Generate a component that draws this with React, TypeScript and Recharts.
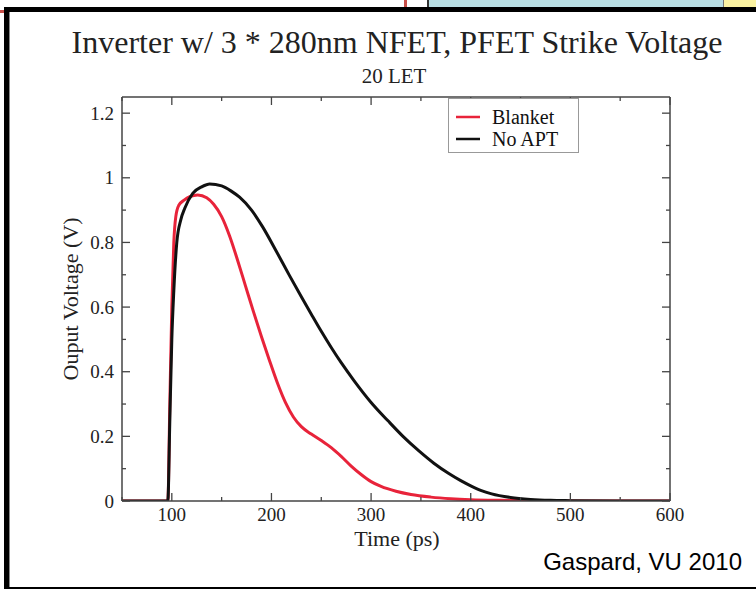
import React from 'react';
import { LineChart, Line, XAxis, YAxis, Legend } from 'recharts';

// ---------- data ----------
const seriesNames = ['Blanket', 'No APT'];
const seriesColors = ['#e8233a', '#111111'];

const blanketTime = [50, 90, 96, 98, 100, 102, 104, 107, 112, 118, 126, 135, 142, 150, 158, 166, 174, 182, 190, 198, 206, 214, 222, 230, 240, 250, 260, 270, 280, 290, 300, 310, 325, 340, 360, 380, 400, 430, 460, 500, 550, 600];
const blanketVolt = [0, 0, 0, 0.3, 0.6, 0.8, 0.88, 0.915, 0.93, 0.942, 0.947, 0.938, 0.918, 0.88, 0.82, 0.745, 0.665, 0.585, 0.508, 0.435, 0.365, 0.305, 0.26, 0.23, 0.207, 0.187, 0.165, 0.138, 0.108, 0.082, 0.06, 0.045, 0.03, 0.02, 0.012, 0.007, 0.004, 0.002, 0.001, 0, 0, 0];

const noAptTime = [50, 90, 96, 98, 100, 102, 105, 109, 113, 121, 130, 138, 150, 160, 168, 180, 191, 205, 218, 230, 240, 250, 260, 270, 283, 300, 317, 332, 348, 363, 378, 390, 400, 410, 421, 440, 460, 480, 500, 550, 600];
const noAptVolt = [0, 0, 0, 0.25, 0.5, 0.65, 0.8, 0.87, 0.906, 0.952, 0.972, 0.981, 0.975, 0.958, 0.94, 0.9, 0.849, 0.772, 0.698, 0.632, 0.578, 0.525, 0.475, 0.428, 0.372, 0.305, 0.248, 0.2, 0.155, 0.117, 0.085, 0.063, 0.047, 0.033, 0.022, 0.011, 0.005, 0.002, 0.001, 0, 0];

const xTicks = [50, 100, 150, 200, 250, 300, 350, 400, 450, 500, 550, 600];
const yTicks = [0, 0.1, 0.2, 0.3, 0.4, 0.5, 0.6, 0.7, 0.8, 0.9, 1, 1.1, 1.2];
const xDomain = [50, 600];
const yDomain = [0, 1.25];

const titleText = 'Inverter w/ 3 * 280nm NFET, PFET Strike Voltage';
const subtitleText = '20 LET';
const xLabel = 'Time (ps)';
const yLabel = 'Ouput Voltage (V)';
const creditText = 'Gaspard, VU 2010';

const blanketData = blanketTime.map((t, i) => ({ t, v: blanketVolt[i] }));
const noAptData = noAptTime.map((t, i) => ({ t, v: noAptVolt[i] }));

// ---------- layout ----------
const W = 756;
const H = 589;
const LEFT_W = 60;
const RIGHT_W = 10;
const TOP_H = 10;
const BOTTOM_H = 30;
const margin = { left: 122 - LEFT_W, right: W - 670 - RIGHT_W, top: 97 - TOP_H, bottom: H - 501 - BOTTOM_H };

const SERIF = '"Liberation Serif", "Times New Roman", serif';
const SANS = '"Liberation Sans", Arial, sans-serif';
const AXIS = '#444';
const MAJOR = 8;
const MINOR = 4;

const isMajorX = (v: number) => Math.round(v) % 100 === 0;
const isMajorY = (v: number) => Math.round(v * 10) % 2 === 0;
const fmtY = (v: number) => String(Math.round(v * 10) / 10);

const BottomTick = (p: any) => {
  const { x, y, payload } = p;
  const major = isMajorX(payload.value);
  return (
    <g>
      <line x1={x} y1={y} x2={x} y2={y - (major ? MAJOR : MINOR)} stroke={AXIS} strokeWidth={1.3} />
      {major && (
        <text x={x} y={y + 20} textAnchor="middle" fontFamily={SERIF} fontSize={19} fill="#222">
          {payload.value}
        </text>
      )}
    </g>
  );
};
const TopTick = (p: any) => {
  const { x, y, payload } = p;
  const major = isMajorX(payload.value);
  return <line x1={x} y1={y} x2={x} y2={y + (major ? MAJOR : MINOR)} stroke={AXIS} strokeWidth={1.3} />;
};
const LeftTick = (p: any) => {
  const { x, y, payload } = p;
  const major = isMajorY(payload.value);
  return (
    <g>
      <line x1={x} y1={y} x2={x + (major ? MAJOR : MINOR)} y2={y} stroke={AXIS} strokeWidth={1.3} />
      {major && (
        <text x={x - 8} y={y} dy="0.35em" textAnchor="end" fontFamily={SERIF} fontSize={19} fill="#222">
          {fmtY(payload.value)}
        </text>
      )}
    </g>
  );
};
const RightTick = (p: any) => {
  const { x, y, payload } = p;
  const major = isMajorY(payload.value);
  return <line x1={x} y1={y} x2={x - (major ? MAJOR : MINOR)} y2={y} stroke={AXIS} strokeWidth={1.3} />;
};

const renderLegend = () => (
  <svg width={131} height={55} style={{ display: 'block' }}>
    <rect x={0.5} y={0.5} width={130} height={54} fill="#fff" stroke="#999" strokeWidth={1} />
    {seriesNames.map((n, i) => (
      <g key={n}>
        <line x1={8} x2={32} y1={19 + i * 22} y2={19 + i * 22} stroke={seriesColors[i]} strokeWidth={2.5} />
        <text x={44} y={19 + i * 22} dy="0.33em" fontFamily={SERIF} fontSize={20} fill="#111">
          {n}
        </text>
      </g>
    ))}
  </svg>
);

export default function App() {
  return (
    <div style={{ position: 'absolute', left: 0, top: 0, width: W, height: H, background: '#fff', overflow: 'hidden' }}>
      {/* slide remnants above the frame */}
      <div style={{ position: 'absolute', left: 404, top: 0, width: 3, height: 7, background: '#c8504a' }} />
      <div style={{ position: 'absolute', left: 427, top: 0, width: 2, height: 7, background: '#333' }} />
      <div style={{ position: 'absolute', left: 429, top: 0, width: 294, height: 7, background: '#b9dfe4' }} />
      <div style={{ position: 'absolute', left: 723, top: 0, width: 1, height: 7, background: '#777' }} />
      <div style={{ position: 'absolute', left: 724, top: 0, width: 32, height: 7, background: '#fbf3a2' }} />
      <div style={{ position: 'absolute', left: 0, top: 10, width: 4, height: 3, background: '#c8504a' }} />
      {/* frame */}
      <div style={{ position: 'absolute', left: 4, top: 7, width: 752, height: 5, background: '#000' }} />
      <div style={{ position: 'absolute', left: 4, top: 7, width: 5, height: 582, background: '#000' }} />
      <div style={{ position: 'absolute', left: 9, top: 12, width: 1, height: 577, background: '#888' }} />
      <div style={{ position: 'absolute', left: 4, top: 587, width: 752, height: 2, background: '#000' }} />

      <div style={{ position: 'absolute', left: 0, top: 0 }}>
        <LineChart width={W} height={H} margin={margin}>
          <XAxis
            xAxisId="bottom"
            dataKey="t"
            type="number"
            domain={xDomain}
            ticks={xTicks}
            interval={0}
            allowDataOverflow
            orientation="bottom"
            height={BOTTOM_H}
            tickSize={0}
            tickMargin={0}
            tickLine={false}
            tick={<BottomTick />}
            axisLine={{ stroke: AXIS, strokeWidth: 1.5 }}
          />
          <XAxis
            xAxisId="top"
            dataKey="t"
            type="number"
            domain={xDomain}
            ticks={xTicks}
            interval={0}
            allowDataOverflow
            orientation="top"
            height={TOP_H}
            tickSize={0}
            tickMargin={0}
            tickLine={false}
            tick={<TopTick />}
            axisLine={{ stroke: AXIS, strokeWidth: 1.5 }}
          />
          <YAxis
            yAxisId="left"
            type="number"
            domain={yDomain}
            ticks={yTicks}
            interval={0}
            allowDataOverflow
            orientation="left"
            width={LEFT_W}
            tickSize={0}
            tickMargin={0}
            tickLine={false}
            tick={<LeftTick />}
            axisLine={{ stroke: AXIS, strokeWidth: 1.5 }}
          />
          <YAxis
            yAxisId="right"
            type="number"
            domain={yDomain}
            ticks={yTicks}
            interval={0}
            allowDataOverflow
            orientation="right"
            width={RIGHT_W}
            tickSize={0}
            tickMargin={0}
            tickLine={false}
            tick={<RightTick />}
            axisLine={{ stroke: AXIS, strokeWidth: 1.5 }}
          />
          <Legend
            layout="vertical"
            align="center"
            verticalAlign="middle"
            content={renderLegend}
            wrapperStyle={{ left: 448, top: 98, width: 131, height: 55 }}
          />
          <Line
            xAxisId="bottom"
            yAxisId="left"
            data={blanketData}
            dataKey="v"
            name={seriesNames[0]}
            type="monotone"
            stroke={seriesColors[0]}
            strokeWidth={3}
            dot={false}
            activeDot={false}
            isAnimationActive={false}
          />
          <Line
            xAxisId="bottom"
            yAxisId="left"
            data={noAptData}
            dataKey="v"
            name={seriesNames[1]}
            type="monotone"
            stroke={seriesColors[1]}
            strokeWidth={3}
            dot={false}
            activeDot={false}
            isAnimationActive={false}
          />
        </LineChart>
      </div>

      <svg width={W} height={H} style={{ position: 'absolute', left: 0, top: 0, pointerEvents: 'none' }}>
        <text x={397} y={53} textAnchor="middle" fontFamily={SERIF} fontSize={32} fill="#222">
          {titleText}
        </text>
        <text x={394} y={83} textAnchor="middle" fontFamily={SERIF} fontSize={21} fill="#222">
          {subtitleText}
        </text>
        <text x={397} y={546} textAnchor="middle" fontFamily={SERIF} fontSize={22} fill="#222">
          {xLabel}
        </text>
        <text transform="translate(78,299) rotate(-90)" textAnchor="middle" fontFamily={SERIF} fontSize={22} fill="#222">
          {yLabel}
        </text>
        <text x={742} y={570} textAnchor="end" fontFamily={SANS} fontSize={24} fill="#000">
          {creditText}
        </text>
      </svg>
    </div>
  );
}
